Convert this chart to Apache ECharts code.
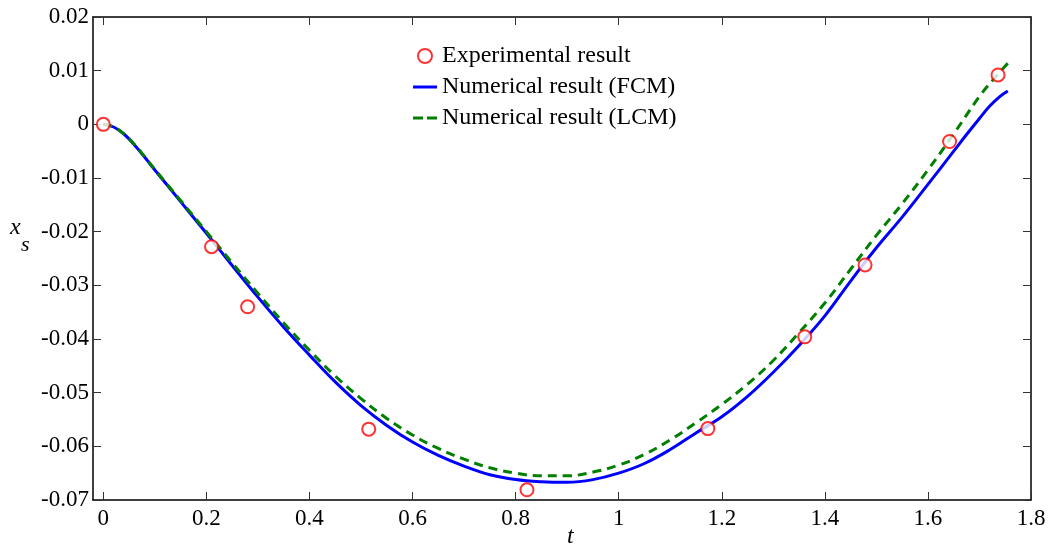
<!DOCTYPE html>
<html>
<head>
<meta charset="utf-8">
<script src="https://cdn.jsdelivr.net/npm/echarts@6/dist/echarts.min.js"></script>
<style>
  html, body { margin: 0; padding: 0; background: #fff; }
  #chart { width: 1049px; height: 552px; }
</style>
</head>
<body>
<div id="chart"></div>
<script>
// Experimental measurements of x_s over time t
const tExp = [0, 0.210, 0.280, 0.515, 0.822, 1.173, 1.361, 1.478, 1.642, 1.736];
const xsExp = [0, -0.0228, -0.0340, -0.0568, -0.0681, -0.0567, -0.0396, -0.0262, -0.0032, 0.0092];

// Numerical result, FCM
const tFCM = [0, 0.02, 0.04, 0.06, 0.08, 0.10, 0.15, 0.20, 0.25, 0.30, 0.35, 0.40, 0.45, 0.50, 0.55,
  0.60, 0.65, 0.70, 0.75, 0.80, 0.85, 0.90, 0.95, 1.00, 1.05, 1.10, 1.15, 1.20, 1.25, 1.30,
  1.35, 1.40, 1.45, 1.50, 1.55, 1.60, 1.65, 1.675, 1.70, 1.72, 1.74, 1.755];
const xsFCM = [0, -0.0005, -0.0018, -0.0038, -0.0061, -0.0085, -0.0144, -0.0203, -0.0263, -0.0322,
  -0.0378, -0.0430, -0.0480, -0.0524, -0.0561, -0.0592, -0.0617, -0.0637, -0.0653, -0.0662,
  -0.0666, -0.0667, -0.0662, -0.0650, -0.0632, -0.0606, -0.0575, -0.0545, -0.0507, -0.0462,
  -0.0412, -0.0357, -0.0292, -0.0230, -0.0173, -0.0112, -0.0050, -0.0019, 0.0011, 0.0034,
  0.0052, 0.0062];

// Numerical result, LCM
const tLCM = [0, 0.02, 0.04, 0.06, 0.08, 0.10, 0.15, 0.20, 0.25, 0.30, 0.35, 0.40, 0.45, 0.50, 0.55,
  0.60, 0.65, 0.70, 0.75, 0.80, 0.85, 0.90, 0.95, 1.00, 1.05, 1.10, 1.15, 1.20, 1.25, 1.30,
  1.35, 1.40, 1.45, 1.50, 1.55, 1.60, 1.65, 1.70, 1.73, 1.757];
const xsLCM = [0, -0.0005, -0.0018, -0.0037, -0.0060, -0.0084, -0.0142, -0.0200, -0.0258, -0.0315,
  -0.0370, -0.0421, -0.0469, -0.0511, -0.0548, -0.0579, -0.0604, -0.0624, -0.0640, -0.0650,
  -0.0655, -0.0655, -0.0648, -0.0635, -0.0615, -0.0588, -0.0556, -0.0522, -0.0484, -0.0440,
  -0.0388, -0.0333, -0.0270, -0.0207, -0.0148, -0.0085, -0.0018, 0.0052, 0.0087, 0.0116];

// Axis ticks
const tTicks = [0, 0.2, 0.4, 0.6, 0.8, 1, 1.2, 1.4, 1.6, 1.8];
const xsTicks = [0.02, 0.01, 0, -0.01, -0.02, -0.03, -0.04, -0.05, -0.06, -0.07];

const seriesNames = ['Experimental result', 'Numerical result (FCM)', 'Numerical result (LCM)'];

const FONT = '"Liberation Serif", "Times New Roman", serif';
const zip = (a, b) => a.map((v, i) => [v, b[i]]);

const axisLineStyle = { show: true, onZero: false, lineStyle: { color: '#000', width: 1.5 } };
const tickStyle = { show: true, inside: true, length: 8, lineStyle: { color: '#333', width: 1 } };

// Legend glyphs: a solid bar and a two-dash bar
const SOLID_ICON = 'path://M0,0H24V3H0Z';
const DASH_ICON = 'path://M0,0H10V3H0Z M14,0H24V3H14Z';

const chart = echarts.init(document.getElementById('chart'), null, { renderer: 'canvas' });

chart.setOption({
  backgroundColor: '#fff',
  animation: false,
  grid: { left: 93, right: 18, top: 17, bottom: 52, containLabel: false, outerBoundsMode: 'none' },
  legend: {
    orient: 'vertical',
    left: 413,
    top: 44,
    padding: 0,
    itemWidth: 24,
    itemHeight: 14,
    itemGap: 7,
    textStyle: { fontFamily: FONT, fontSize: 24, color: '#000', lineHeight: 24 },
    data: [
      { name: seriesNames[0] },
      { name: seriesNames[1], icon: SOLID_ICON },
      { name: seriesNames[2], icon: DASH_ICON }
    ]
  },
  xAxis: [
    {
      type: 'value', position: 'bottom', min: -0.02, max: 1.8,
      axisLine: axisLineStyle,
      axisTick: Object.assign({ customValues: tTicks }, tickStyle),
      axisLabel: { customValues: tTicks, fontFamily: FONT, fontSize: 23, color: '#000', margin: 7 },
      splitLine: { show: false }
    },
    {
      type: 'value', position: 'top', min: -0.02, max: 1.8,
      axisLine: axisLineStyle,
      axisTick: Object.assign({ customValues: tTicks }, tickStyle),
      axisLabel: { show: false },
      splitLine: { show: false }
    }
  ],
  yAxis: [
    {
      type: 'value', position: 'left', min: -0.07, max: 0.02, interval: 0.01,
      axisLine: axisLineStyle,
      axisTick: Object.assign({ customValues: xsTicks }, tickStyle),
      axisLabel: { customValues: xsTicks, fontFamily: FONT, fontSize: 23, color: '#000', margin: 4 },
      splitLine: { show: false }
    },
    {
      type: 'value', position: 'right', min: -0.07, max: 0.02, interval: 0.01,
      axisLine: axisLineStyle,
      axisTick: Object.assign({ customValues: xsTicks }, tickStyle),
      axisLabel: { show: false },
      splitLine: { show: false }
    }
  ],
  graphic: [
    { type: 'text', left: 10, top: 216, style: { text: 'x', font: 'italic 24px ' + FONT, fill: '#000' } },
    { type: 'text', left: 21, top: 234, style: { text: 's', font: 'italic 22px ' + FONT, fill: '#000' } },
    { type: 'text', left: 567, top: 525, style: { text: 't', font: 'italic 24px ' + FONT, fill: '#000' } }
  ],
  series: [
    {
      name: seriesNames[1], type: 'line', data: zip(tFCM, xsFCM),
      showSymbol: false, symbol: 'none', smooth: 0.4,
      lineStyle: { color: '#0000ff', width: 3 },
      itemStyle: { color: '#0000ff' }, z: 2
    },
    {
      name: seriesNames[2], type: 'line', data: zip(tLCM, xsLCM),
      showSymbol: false, symbol: 'none', smooth: 0.4,
      lineStyle: { color: '#007f00', width: 3, type: [9, 6] },
      itemStyle: { color: '#007f00' }, z: 3
    },
    {
      name: seriesNames[0], type: 'scatter', data: zip(tExp, xsExp),
      symbol: 'emptyCircle', symbolSize: 13,
      itemStyle: { color: '#ff0000', borderColor: '#ff0000', borderWidth: 2.5 }, z: 4
    }
  ]
});
</script>
</body>
</html>
